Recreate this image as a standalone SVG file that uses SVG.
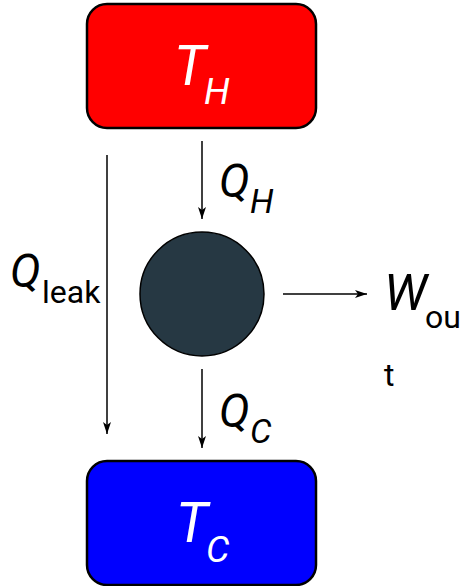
<svg xmlns="http://www.w3.org/2000/svg" width="464" height="586" viewBox="0 0 464 586">
<defs>
<marker id="ah" viewBox="0 0 12 8" refX="12" refY="4" markerWidth="12" markerHeight="8" markerUnits="userSpaceOnUse" orient="auto">
<path d="M0,0 L12,4 L0,8 L3,4 Z" fill="#000"/>
</marker>
</defs>
<style>
.box{stroke:#000;stroke-width:2.5}
.it{font-family:Roboto,"Liberation Sans",sans-serif;font-style:italic}
.rm{font-family:Roboto,"Liberation Sans",sans-serif}
.w{fill:#fff}
.k{fill:#000}
.con line{stroke:#000;stroke-width:1.5;marker-end:url(#ah)}
</style>
<rect width="464" height="586" fill="#fff"/>
<g id="hot">
<rect class="box" x="87" y="4" width="229" height="124" rx="20" fill="#ff0000"/>
<text class="it w" x="174" y="85" font-size="55">T</text>
<text class="it w" x="204" y="104" font-size="37">H</text>
</g>
<g id="cold">
<rect class="box" x="87" y="461" width="229" height="124" rx="20" fill="#0000ff"/>
<text class="it w" x="176" y="542" font-size="55">T</text>
<text class="it w" x="206" y="562" font-size="37">C</text>
</g>
<g id="engine">
<circle cx="202" cy="294" r="62" fill="#263843" stroke="#000" stroke-width="1.5"/>
</g>
<g class="con" id="connectors">
<line x1="202" y1="141" x2="202" y2="219"/>
<line x1="107" y1="155" x2="107" y2="434"/>
<line x1="202" y1="369" x2="202" y2="448"/>
<line x1="283" y1="294" x2="367" y2="294"/>
</g>
<g id="labels">
<text class="it k" x="219" y="197" font-size="46">Q</text>
<text class="it k" x="250" y="213" font-size="34">H</text>
<text class="it k" x="10" y="287" font-size="46">Q</text>
<text class="rm k" x="42" y="303" font-size="32">leak</text>
<text class="it k" x="219" y="427" font-size="46">Q</text>
<text class="it k" x="250" y="443" font-size="34">C</text>
<text class="it k" x="384" y="310" font-size="50">W</text>
<text class="rm k" x="425" y="328" font-size="32">ou</text>
<text class="rm k" x="384" y="386" font-size="32">t</text>
</g>
</svg>
